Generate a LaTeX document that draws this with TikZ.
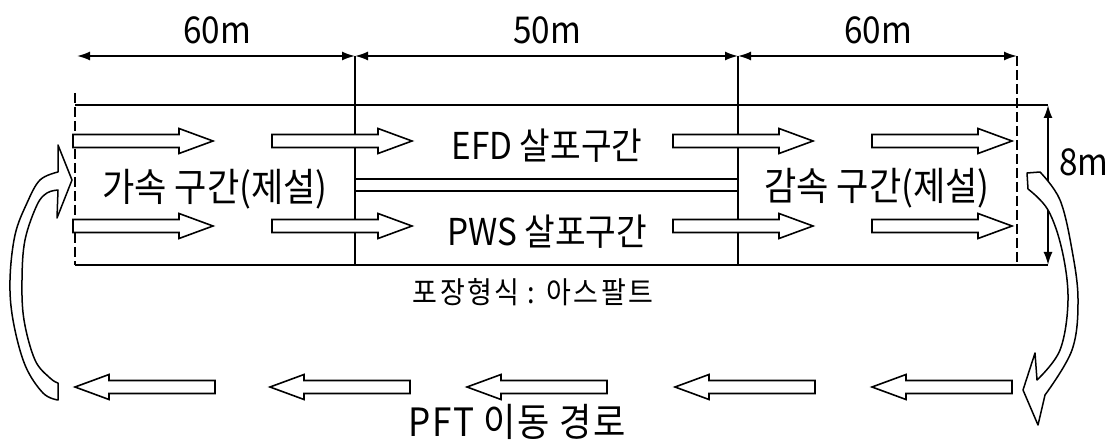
\documentclass[tikz,border=0pt]{standalone}
\usepackage{fontspec}
\setmainfont{Noto Sans CJK KR}
\newfontfamily\labfont[FakeStretch=0.9]{Noto Sans CJK KR}
\newfontfamily\spcfont[FakeStretch=0.9,LetterSpace=8]{Noto Sans CJK KR}
\newfontfamily\pftfont[FakeStretch=0.9,LetterSpace=4]{Noto Sans CJK KR}
\usetikzlibrary{arrows.meta}
\tikzset{
  num/.style={font=\labfont\fontsize{37}{42}\selectfont, inner sep=0pt},
  lane/.style={font=\labfont\fontsize{37}{42}\selectfont, inner sep=0pt},
  big/.style={font=\labfont\fontsize{39}{44}\selectfont, inner sep=0pt},
  small/.style={font=\spcfont\fontsize{30}{34}\selectfont, inner sep=0pt},
  pftstyle/.style={font=\pftfont\fontsize{39}{44}\selectfont, inner sep=0pt},
  dimline/.style={line width=1.8pt, {Latex[length=13pt,width=9pt]}-{Latex[length=13pt,width=9pt]}},
  edge/.style={line width=1.2pt},
  thinv/.style={line width=1.5pt},
  thickv/.style={line width=2.6pt},
  dashv/.style={line width=1.2pt, dash pattern=on 10pt off 4pt},
  hollow/.style={line width=1.6pt, fill=white, line join=miter},
  curv/.style={line width=1.5pt, fill=white, line join=round},
  harrow/.pic={\draw[hollow] (0,0) -- (-34,-12.5) -- (-34,-6.5) -- (-140,-6.5) -- (-140,6.5) -- (-34,6.5) -- (-34,12.5) -- cycle;}
}
\begin{document}
\begin{tikzpicture}[x=1pt,y=-1pt]
\useasboundingbox (0,0) rectangle (1110,446);
% dimension coordinates
\coordinate (d0) at (77,56);
\coordinate (d1) at (355,56);
\coordinate (d2) at (738,56);
\coordinate (d3) at (1017,56);
\coordinate (b1) at (355,265);
\coordinate (b2) at (738,265);
\coordinate (b3) at (1017,265);
\coordinate (r0) at (75,105);
\coordinate (r1) at (1048,105);
\coordinate (s0) at (75,265);
\coordinate (s1) at (1048,265);
\coordinate (m0) at (355,179);
\coordinate (m1) at (738,179);
\coordinate (n0) at (355,191);
\coordinate (n1) at (738,191);
\coordinate (l0) at (75,93);
% road outline
\draw[edge] (r0) -- (r1);
\draw[edge] (s0) -- (s1);
\draw[dashv] (l0) -- (s0);
\draw[thinv] (d1) -- (b1);
\draw[thickv] (d2) -- (b2);
\draw[dashv] (d3) -- (b3);
\draw[edge] (m0) -- (m1);
\draw[edge] (n0) -- (n1);
% dimensions
\draw[dimline] (d0) -- (d1);
\draw[dimline] (d1) -- (d2);
\draw[dimline] (d2) -- (d3);
\draw[dimline] (r1) -- (s1);
% lane arrows
\foreach \t in {213,412,813,1012}{
  \pic at (\t,141) {harrow};
  \pic at (\t,226) {harrow};
}
% return arrows
\foreach \t in {75,270,467,675,872}{
  \pic[xscale=-1] at (\t,387) {harrow};
}
% curved arrows
\draw[curv] plot[smooth, tension=0.6] coordinates {(58,400) (43,393) (25,365) (13,320) (10,280) (15,235) (27,203) (40,180) (58,172)}
  -- (58,145) -- (72,180) -- (57,218) -- (58,190)
  -- plot[smooth, tension=0.6] coordinates {(58,190) (47,193) (37,205) (25,240) (22,280) (24,320) (35,360) (50,378) (58,383)} -- cycle;
\draw[curv] (1028,189) -- (1027,173) -- (1040,172)
  -- plot[smooth, tension=0.6] coordinates {(1040,172) (1060,200) (1072,250) (1078,300) (1072,350) (1045,395)}
  -- (1038,425) -- (1023,390) -- (1035,353) -- (1037,380)
  -- plot[smooth, tension=0.6] coordinates {(1037,380) (1060,350) (1068,300) (1062,250) (1048,210) (1028,189)} -- cycle;
% labels
\node[num] (t60a) at (217,30) {60m};
\node[num] (t50) at (547,30) {50m};
\node[num] (t60b) at (878,30) {60m};
\node[num] (t8) at (1084,162) {8m};
\node[lane] (efd) at (547,146) {EFD 살포구간};
\node[lane] (pws) at (547,232) {PWS 살포구간};
\node[big] (acc) at (215,189) {가속 구간(제설)};
\node[big] (dec) at (877,188) {감속 구간(제설)};
\node[small] (pave) at (533,292) {포장형식 : 아스팔트};
\node[pftstyle] (pft) at (517,422) {PFT 이동 경로};
\end{tikzpicture}
\end{document}
